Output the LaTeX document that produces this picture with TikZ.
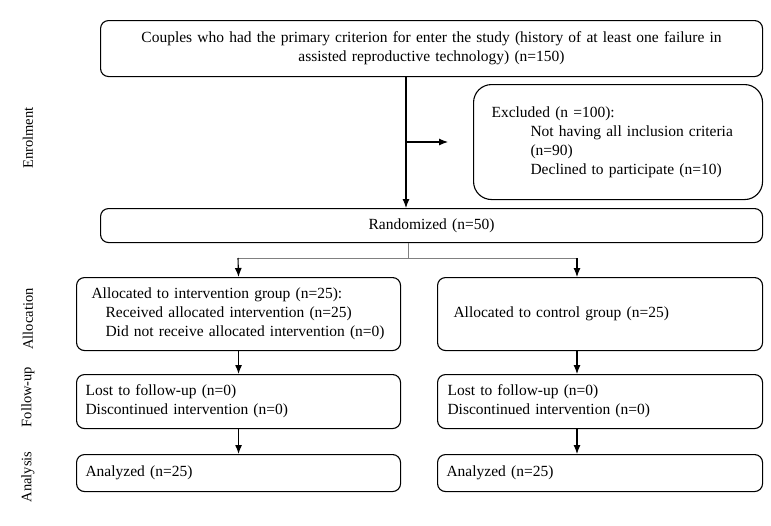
\documentclass[tikz,border=0pt]{standalone}
\usepackage{fontspec}
\setmainfont{Liberation Serif}
\usetikzlibrary{arrows.meta, positioning, shapes}

\begin{document}
\begin{tikzpicture}[x=1pt, y=-1pt,
  box/.style={draw, rounded corners=8pt, line width=1.1pt, anchor=north west,
    inner ysep=0pt, font=\fontsize{15.5}{19}\selectfont},
  phase/.style={rotate=90, font=\fontsize{14.5}{17}\selectfont},
  arr/.style={-{Latex[length=9pt,width=7pt]}, line width=1.1pt},
  fork/.style={gray, line width=0.9pt}]

  \useasboundingbox (0,0) rectangle (771,525);

  % enrolment
  \node[box, minimum width=662, minimum height=56, inner xsep=11, text width=640, align=center]
    (top) at (100,20) {Couples who had the primary criterion for enter the study (history of at least one failure in\\
    assisted reproductive technology) (n=150)};
  \node[box, rounded corners=18pt, minimum width=289, minimum height=115, inner xsep=18, text width=253, align=left]
    (excl) at (473,84) {Excluded (n =100):\\
    \hspace*{39pt}Not having all inclusion criteria\\
    \hspace*{39pt}(n=90)\\
    \hspace*{39pt}Declined to participate (n=10)\\[-4pt]};
  \node[box, minimum width=662, minimum height=34, inner xsep=11, text width=640, align=center]
    (rand) at (100,208) {Randomized (n=50)};

  % allocation
  \node[box, minimum width=324, minimum height=73, inner xsep=15, text width=294, align=left]
    (alloc) at (76,277) {Allocated to intervention group (n=25):\\
    \hspace*{14pt}Received allocated intervention (n=25)\\
    \hspace*{14pt}Did not receive allocated intervention (n=0)};
  \node[box, minimum width=325, minimum height=73, inner xsep=16, text width=293, align=left]
    (ctrl) at (437,277) {Allocated to control group (n=25)};

  % follow-up
  \node[box, minimum width=324, minimum height=54, inner xsep=9, text width=306, align=left]
    (lostA) at (76,374) {Lost to follow-up (n=0)\\Discontinued intervention (n=0)};
  \node[box, minimum width=325, minimum height=54, inner xsep=10, text width=305, align=left]
    (lostB) at (437,374) {Lost to follow-up (n=0)\\Discontinued intervention (n=0)};

  % analysis
  \node[box, minimum width=324, minimum height=37, inner xsep=9, text width=306, align=left]
    (anaA) at (76,454) {Analyzed (n=25)};
  \node[box, minimum width=325, minimum height=37, inner xsep=9, text width=307, align=left]
    (anaB) at (437,454) {Analyzed (n=25)};

  % phase labels
  \node[phase] (enrol) at (28,138) {Enrolment};
  \node[phase] (allocl) at (28,319) {Allocation};
  \node[phase] (follow) at (28,397) {Follow-up};
  \node[phase] (analys) at (28,477) {Analysis};

  % connectors
  \coordinate (split) at (406,142);
  \coordinate (exclend) at (448,142);
  \coordinate (mid) at (408,258);
  \coordinate (lfork) at (238,258);
  \coordinate (rfork) at (577,258);

  \draw[arr] (top.south -| split) -- (rand.north -| split);
  \draw[arr] (split) -- (exclend);

  \draw[fork] (rand.south -| mid) -- (mid);
  \draw[fork] (lfork) -- (rfork);
  \draw[arr] (lfork) -- (alloc.north);
  \draw[arr] (rfork) -- (ctrl.north -| rfork);

  \draw[arr] (alloc.south) -- (lostA.north -| alloc.south);
  \draw[arr] (ctrl.south -| rfork) -- (lostB.north -| rfork);
  \draw[arr] (lostA.south) -- (anaA.north -| lostA.south);
  \draw[arr] (lostB.south -| rfork) -- (anaB.north -| rfork);
\end{tikzpicture}
\end{document}
